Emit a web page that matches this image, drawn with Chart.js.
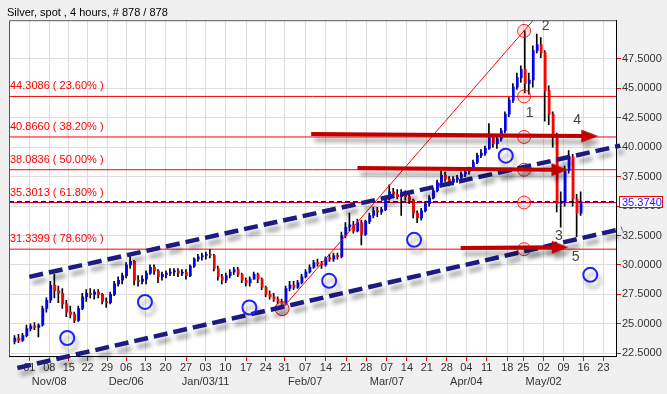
<!DOCTYPE html>
<html>
<head>
<meta charset="utf-8">
<script src="https://cdn.jsdelivr.net/npm/chart.js@4.4.1/dist/chart.umd.min.js"></script>
<style>
  html, body { margin: 0; padding: 0; background: #f0f0f0; }
  canvas { display: block; }
</style>
</head>
<body>
<canvas id="chart" width="667" height="394"></canvas>
<script>
const FONT = "'Liberation Sans', Arial, sans-serif";

// daily bars, x = trading day index (Oct 25 = 0)
const firstDay = 1;
const opens  = [23.5,23.8,23.6,24.0,24.6,24.8,24.7,24.9,26.3,27.0,28.3,27.8,27.6,26.7,26.0,25.8,25.3,26.3,27.3,27.6,27.5,27.7,27.5,26.9,26.8,27.5,28.4,28.7,29.1,30.0,30.3,28.7,28.6,28.8,29.3,29.8,29.5,29.0,29.2,29.3,29.4,29.5,29.3,29.4,29.1,29.9,30.5,30.7,30.8,30.9,30.8,29.7,29.0,28.7,29.1,29.4,29.6,29.2,28.7,28.5,28.8,29.2,28.8,28.1,27.5,27.3,27.1,26.9,26.7,28.0,28.3,28.1,28.5,29.0,29.4,29.8,30.2,30.1,30.0,30.6,30.5,30.8,30.7,32.5,33.2,33.4,32.9,33.6,32.6,33.7,34.2,34.6,34.5,34.7,35.6,36.2,36.0,35.8,36.0,35.8,35.5,34.4,34.0,34.6,35.2,35.7,36.3,37.0,37.6,37.3,37.0,37.3,37.4,37.7,37.9,38.2,38.7,39.3,39.5,39.9,40.8,40.3,40.7,41.4,42.8,44.0,45.1,45.9,46.6,45.4,45.7,48.2,48.7,48.0,44.8,42.8,41.0,35.2,35.3,38.0,39.2,35.6,34.4];
const highs  = [24.0,24.1,24.2,24.9,25.0,25.1,25.0,26.5,27.2,28.6,29.2,28.2,28.0,27.0,26.5,26.0,26.5,27.6,27.9,28.0,27.9,27.9,27.6,27.2,27.7,28.6,29.0,29.3,30.2,30.8,30.4,29.1,29.1,29.5,30.0,30.0,29.6,29.4,29.5,29.7,29.7,29.7,29.6,29.6,30.0,30.6,30.9,31.0,31.1,31.3,30.9,29.9,29.2,29.3,29.6,29.8,29.8,29.3,28.9,29.0,29.4,29.3,28.9,28.2,27.8,27.6,27.3,27.1,28.2,28.6,28.6,28.7,29.2,29.6,30.0,30.4,30.5,30.3,30.7,30.9,31.0,31.0,32.8,33.6,34.4,33.7,33.9,33.8,33.8,34.4,34.9,34.9,34.9,35.8,36.8,36.5,36.4,36.4,36.3,36.1,35.6,34.6,34.8,35.4,35.9,36.5,37.2,38.0,37.9,37.5,37.5,37.6,37.9,38.0,38.3,38.9,39.5,39.8,40.1,42.0,41.0,40.9,41.6,43.0,44.2,45.4,46.3,46.9,49.87,46.3,48.6,49.6,49.3,48.2,45.2,43.0,41.2,36.2,38.4,39.7,39.4,36.0,36.2];
const lows   = [23.3,23.4,23.5,23.9,24.4,24.5,23.9,24.8,26.0,26.8,27.2,26.8,26.3,25.6,25.5,25.1,25.2,26.2,26.9,27.2,27.1,27.2,26.7,26.4,26.7,27.4,28.2,28.4,28.9,29.7,28.3,28.2,28.4,28.4,29.2,29.2,28.5,28.7,28.9,29.1,29.1,29.0,29.1,28.8,29.0,29.8,30.3,30.4,30.5,30.6,29.5,28.7,28.4,28.5,28.9,29.2,29.0,28.5,28.2,28.2,28.8,28.5,27.9,27.3,27.1,26.9,26.7,26.29,26.6,27.8,27.9,28.0,28.4,28.9,29.3,29.7,29.9,29.7,29.9,30.3,30.3,30.5,30.6,32.3,32.9,32.7,32.8,31.7,32.5,33.5,34.0,34.1,34.3,34.6,35.5,35.7,35.6,34.2,35.5,35.2,34.0,33.6,33.8,34.5,35.0,35.6,36.2,36.9,37.1,36.7,36.8,37.0,37.2,37.5,37.7,38.1,38.6,39.1,39.3,39.8,40.0,39.9,40.5,41.2,42.6,43.8,44.9,45.5,44.6,44.5,45.1,48.0,47.6,42.2,41.9,40.0,34.5,33.2,35.0,37.8,35.0,32.4,34.2];
const closes = [23.8,23.6,24.0,24.6,24.8,24.7,24.9,26.3,27.0,28.3,27.8,27.6,26.7,26.0,25.8,25.3,26.3,27.3,27.6,27.5,27.7,27.5,26.9,26.8,27.5,28.4,28.7,29.1,30.0,30.3,28.7,28.6,28.8,29.3,29.8,29.5,29.0,29.2,29.3,29.4,29.5,29.3,29.4,29.1,29.9,30.5,30.7,30.8,30.9,30.8,29.7,29.0,28.7,29.1,29.4,29.6,29.2,28.7,28.5,28.8,29.2,28.8,28.1,27.5,27.3,27.1,26.9,26.7,28.0,28.3,28.1,28.5,29.0,29.4,29.8,30.2,30.1,30.0,30.6,30.5,30.8,30.7,32.5,33.2,33.4,32.9,33.6,32.6,33.7,34.2,34.6,34.5,34.7,35.6,36.2,36.0,35.8,36.0,35.8,35.5,34.4,34.0,34.6,35.2,35.7,36.3,37.0,37.6,37.3,37.0,37.3,37.4,37.7,37.9,38.2,38.7,39.3,39.5,39.9,40.8,40.3,40.7,41.4,42.8,44.0,45.1,45.9,46.6,45.4,45.7,48.2,48.7,48.0,44.8,42.8,41.0,35.2,35.3,38.0,39.2,35.6,34.4,35.374];

// axes
const xMin = 0, xMax = 152.25;
const yMin = 22.27, yMax = 50.78;
const tickDays = [5.1,10.1,15,19.7,24.6,29.4,34.3,39.3,44.4,49.3,54.3,59.5,64.4,69.1,74.3,79.5,84.6,89.6,94.8,99.8,104.8,109.8,114.7,119.8,125,129,134.1,139.1,144.1,149.1];
const dayLabels = ['01','08','15','22','29','06','13','20','27','03','10','17','24','31','07','14','21','28','07','14','21','28','04','11','18','25','02','09','16','23'];
const monthLabels = ['','Nov/08','','','','Dec/06','','','','Jan/03/11','','','','','Feb/07','','','','Mar/07','','','','Apr/04','','','','May/02','','',''];
const yTicks = [22.5,25,27.5,30,32.5,35,37.5,40,42.5,45,47.5];

// fibonacci retracement
const fibLevels = [44.3086, 40.8660, 38.0836, 35.3013, 31.3399];
const fibPercents = ['23.60', '38.20', '50.00', '61.80', '78.60'];
const fibHigh = [129.2, 49.87];
const fibLow = [68.5, 26.29];
const trendLine = [[68.5, 26.29], [131.5, 50.78]];
const lastPrice = 35.374;

// drawn annotations
const upperChannel = [[5.1, 28.99], [153.3, 40.13]];
const lowerChannel = [[2.1, 21.25], [153.8, 33.07]];
const blueCircles = [[14.6, 23.8], [34.1, 26.86], [60.3, 26.39], [80.3, 28.65], [101.6, 32.13], [124.6, 39.28], [145.8, 29.16]];
const arrows = [
  [[75.8, 41.11], [143.8, 40.94]],
  [[87.4, 38.23], [136.3, 38.09]],
  [[113.3, 31.43], [136.4, 31.50]]
];
const waveLabels = ['1', '2', '3', '4', '5'];
const waveX = [130.6, 134.6, 137.9, 142.5, 142.1];
const waveY = [42.91, 50.27, 32.42, 42.28, 30.66];

const pts = arr => arr.map(p => ({x: p[0], y: p[1]}));

const wickData = opens.map((_, k) => ({x: firstDay + k + 0.375, y: [lows[k], highs[k]]}));
const bodyData = opens.map((_, k) => ({x: firstDay + k + 0.5, y: [Math.min(opens[k], closes[k]), Math.max(opens[k], closes[k])]}));
const bodyColors = closes.map((c, k) => c >= opens[k] ? '#0000ff' : '#ff0000');

function makeHead(color) {
  const c = document.createElement('canvas');
  c.width = 32; c.height = 14;
  const g = c.getContext('2d');
  g.fillStyle = color;
  g.beginPath();
  g.moveTo(15, 0.5);
  g.lineTo(32, 7);
  g.lineTo(15, 13.5);
  g.closePath();
  g.fill();
  return c;
}
const arrowHead = makeHead('#c00000');

const datasets = [];
fibLevels.forEach(lv => {
  datasets.push({type: 'line', data: pts([[xMin, lv], [xMax, lv]]), borderColor: '#ff0000', borderWidth: 1, pointRadius: 0, order: 20});
});
datasets.push({type: 'line', data: pts([[xMin, lastPrice], [xMax, lastPrice]]), borderColor: '#0000ff', borderWidth: 1.5, borderDash: [5, 3], pointRadius: 0, order: 19});
datasets.push({type: 'bar', data: wickData, backgroundColor: '#000000', barThickness: 1, grouped: false, order: 18});
datasets.push({type: 'bar', data: bodyData, backgroundColor: bodyColors, barThickness: 2, minBarLength: 1, grouped: false, order: 17});
datasets.push({type: 'line', data: pts([fibHigh].concat(fibLevels.map(lv => [fibHigh[0], lv]))), showLine: false,
  pointRadius: 6.5, pointBorderWidth: 1, pointBorderColor: 'rgba(255,0,0,0.85)', pointBackgroundColor: 'rgba(255,80,80,0.15)', order: 16});
datasets.push({type: 'line', data: pts([fibLow]), showLine: false, pointRadius: 7, pointBorderWidth: 1,
  pointBorderColor: 'rgba(220,0,0,0.9)', pointBackgroundColor: 'rgba(190,90,90,0.35)', order: 16});
datasets.push({type: 'line', data: pts(trendLine), borderColor: '#ff0000', borderWidth: 1, pointRadius: 0, order: 15});
[upperChannel, lowerChannel].forEach(ch => {
  datasets.push({type: 'line', data: pts(ch), borderColor: '#1b1b80', borderWidth: 4.5, borderDash: [14, 6],
    pointRadius: 0, clip: false, shadow: true, order: 14});
});
datasets.push({type: 'line', data: pts(blueCircles), showLine: false, pointRadius: 7, pointBorderWidth: 2,
  pointBorderColor: '#2020ff', pointBackgroundColor: 'rgba(0,0,0,0)', shadow: true, order: 13});
arrows.forEach(a => {
  datasets.push({type: 'line', data: pts(a), borderColor: '#c00000', borderWidth: 4, borderCapStyle: 'butt',
    pointRadius: c => c.dataIndex === a.length - 1 ? 1 : 0,
    pointStyle: c => c.dataIndex === a.length - 1 ? arrowHead : 'circle',
    shadow: true, order: 12});
});

const overlay = {
  id: 'overlay',
  beforeDraw(chart) {
    const {ctx, chartArea: a} = chart;
    ctx.save();
    ctx.fillStyle = '#ffffff';
    ctx.fillRect(a.left, a.top, a.right - a.left, a.bottom - a.top);
    ctx.restore();
  },
  beforeDatasetDraw(chart, args) {
    const ds = chart.data.datasets[args.index];
    if (!ds.shadow) return;
    const ctx = chart.ctx;
    ctx.save();
    ctx.shadowColor = 'rgba(0,0,0,0.35)';
    ctx.shadowBlur = 4;
    ctx.shadowOffsetX = 3;
    ctx.shadowOffsetY = 6;
  },
  afterDatasetDraw(chart, args) {
    if (chart.data.datasets[args.index].shadow) chart.ctx.restore();
  },
  afterDatasetsDraw(chart) {
    const {ctx, chartArea: a, scales: {x, y}} = chart;
    ctx.save();
    ctx.font = '11px ' + FONT;
    ctx.fillStyle = '#ff0000';
    ctx.textAlign = 'left';
    ctx.textBaseline = 'alphabetic';
    fibLevels.forEach((lv, k) => {
      ctx.fillText(lv.toFixed(4) + ' ( ' + fibPercents[k] + '% )', a.left + 1, y.getPixelForValue(lv) - 7);
    });
    ctx.font = '14px ' + FONT;
    ctx.fillStyle = '#444444';
    ctx.textAlign = 'center';
    ctx.textBaseline = 'middle';
    waveLabels.forEach((t, k) => {
      ctx.fillText(t, x.getPixelForValue(waveX[k]), y.getPixelForValue(waveY[k]));
    });
    ctx.restore();
  },
  afterDraw(chart) {
    const {ctx, chartArea: a, scales: {y}} = chart;
    ctx.save();
    ctx.strokeStyle = '#555555';
    ctx.lineWidth = 1;
    ctx.beginPath();
    ctx.moveTo(a.left + 0.5, a.bottom);
    ctx.lineTo(a.left + 0.5, a.top + 0.5);
    ctx.lineTo(a.right, a.top + 0.5);
    ctx.stroke();
    const py = Math.round(y.getPixelForValue(lastPrice));
    ctx.fillStyle = '#ffffff';
    ctx.fillRect(a.right + 3, py - 6, 44, 12);
    ctx.strokeStyle = '#ff0000';
    ctx.strokeRect(a.right + 3.5, py - 5.5, 43, 11);
    ctx.font = '11px ' + FONT;
    ctx.fillStyle = '#1a1aff';
    ctx.textAlign = 'left';
    ctx.textBaseline = 'middle';
    ctx.fillText(lastPrice.toFixed(4), a.right + 6, py + 0.5);
    ctx.restore();
  }
};

new Chart(document.getElementById('chart'), {
  type: 'bar',
  data: {datasets},
  options: {
    responsive: false,
    animation: false,
    devicePixelRatio: 1,
    layout: {padding: {left: 7, right: 0, top: 0, bottom: 0}},
    plugins: {
      legend: {display: false},
      tooltip: {enabled: false},
      title: {
        display: true, text: 'Silver, spot , 4 hours, # 878 / 878', align: 'start', color: '#000000',
        font: {family: FONT, size: 11, weight: 'normal'}, padding: {top: 6, bottom: 1}
      }
    },
    scales: {
      x: {
        type: 'linear', min: xMin, max: xMax, offset: false,
        afterBuildTicks: s => { s.ticks = tickDays.map(v => ({value: v})); },
        afterFit: s => { s.height = 38; },
        grid: {color: '#dddddd', tickColor: '#ff0000', tickLength: 5, offset: false},
        border: {color: '#000000'},
        ticks: {
          autoSkip: false, maxRotation: 0, minRotation: 0, padding: 0, color: '#333333',
          font: {family: FONT, size: 11, lineHeight: 1.3},
          callback: (v, i) => monthLabels[i] ? [dayLabels[i], monthLabels[i]] : dayLabels[i]
        }
      },
      y: {
        position: 'right', min: yMin, max: yMax,
        afterBuildTicks: s => { s.ticks = yTicks.map(v => ({value: v})); },
        afterFit: s => { s.width = 51; },
        grid: {color: '#dddddd', tickColor: '#ff0000', tickLength: 5},
        border: {color: '#000000'},
        ticks: {padding: 1, color: '#333333', font: {family: FONT, size: 11}, callback: v => v.toFixed(4)}
      }
    }
  },
  plugins: [overlay]
});
</script>
</body>
</html>
